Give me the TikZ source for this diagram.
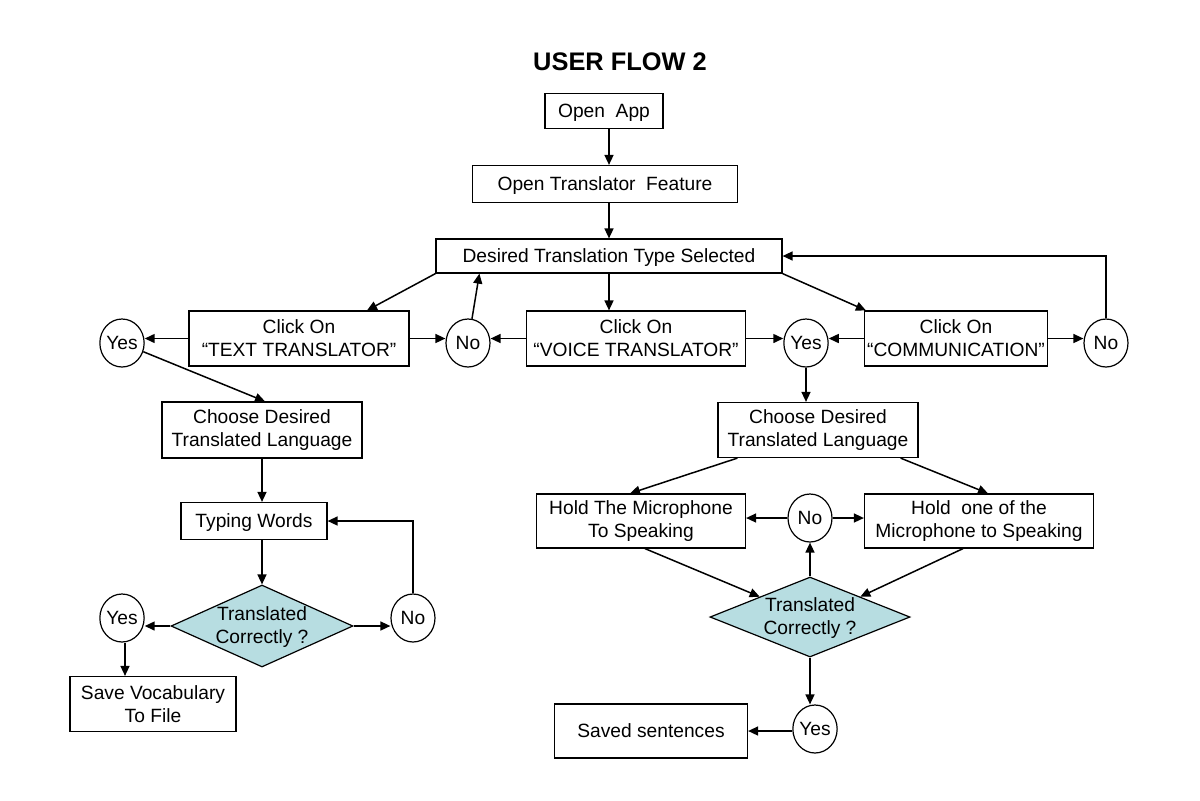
\documentclass[tikz,border=0pt]{standalone}
\usepackage{fontspec}
\setmainfont{Liberation Sans}
\usetikzlibrary{arrows.meta,shapes.geometric,calc}
\definecolor{diafill}{RGB}{183,221,225}
\begin{document}
\begin{tikzpicture}[x=0.5pt,y=-0.5pt,
  every node/.style={font=\fontsize{9.6}{11.4}\selectfont, inner sep=0pt},
  box/.style={draw, line width=0.6pt, align=center},
  one/.style={text depth=0pt},
  circ/.style={draw, ellipse, line width=0.6pt, minimum width=22pt, minimum height=24pt, text depth=0pt},
  dia/.style={draw, diamond, fill=diafill, line width=0.6pt},
  diatext/.style={align=center},
  arr/.style={-{Triangle[length=5pt,width=4.5pt]}, line width=0.75pt}]
\useasboundingbox (0,0) rectangle (1200,800);
\node[font=\fontsize{12.7}{14}\selectfont\bfseries] (title) at (620,62) {USER FLOW 2};
% top column
\node[box, one, minimum width=59pt, minimum height=17.5pt] (open) at (604,111) {Open\ \ App};
\node[box, one, minimum width=132.5pt, minimum height=18.5pt] (feat) at (605,184) {Open Translator\ \ Feature};
\node[box, one, minimum width=173pt, minimum height=17pt] (desired) at (609,256) {Desired Translation Type Selected};
% row of choices
\node[box, minimum width=110pt, minimum height=27.5pt] (text) at (299,338.5) {Click On\\“TEXT TRANSLATOR”};
\node[box, minimum width=109.5pt, minimum height=27.5pt] (voice) at (636,338.5) {Click On\\“VOICE TRANSLATOR”};
\node[box, minimum width=91.5pt, minimum height=27.5pt] (comm) at (956,338.5) {Click On\\“COMMUNICATION”};
\node[circ] (yesA) at (122,343) {Yes};
\node[circ] (noA) at (468,343) {No};
\node[circ] (yesB) at (806,343) {Yes};
\node[circ] (noB) at (1106,343) {No};
% left branch
\node[box, minimum width=100pt, minimum height=28pt] (chooseL) at (262,430) {Choose Desired\\Translated Language};
\node[box, one, minimum width=73pt, minimum height=18.5pt] (typing) at (254,521) {Typing Words};
\node[dia, minimum width=91pt, minimum height=41pt] (diaL) at (262,626) {};
\node[diatext] (diaLt) at (262,627) {Translated\\Correctly ?};
\node[circ] (yesC) at (122,618) {Yes};
\node[circ] (noC) at (413,618) {No};
\node[box, minimum width=83pt, minimum height=27.5pt] (save) at (153,704) {Save Vocabulary\\To File};
% right branch
\node[box, minimum width=100pt, minimum height=27.5pt] (chooseR) at (818,430) {Choose Desired\\Translated Language};
\node[box, minimum width=104.5pt, minimum height=27pt] (holdA) at (641,521) {Hold The Microphone\\To Speaking};
\node[circ] (noD) at (810,518) {No};
\node[box, minimum width=114.5pt, minimum height=27pt] (holdB) at (979,521) {Hold\ \ one of the\\Microphone to Speaking};
\node[dia, minimum width=100pt, minimum height=40pt] (diaR) at (810,617) {};
\node[diatext] (diaRt) at (810,618) {Translated\\Correctly ?};
\node[circ] (yesE) at (815,729) {Yes};
\node[box, one, minimum width=96.5pt, minimum height=27pt] (saved) at (651,731) {Saved sentences};
% connectors top
\draw[arr] (open.south -| 609,0) -- (feat.north -| 609,0);
\draw[arr] (feat.south -| 609,0) -- (desired.north -| 609,0);
\draw[arr] (desired.south -| 609,0) -- (voice.north -| 609,0);
\draw[arr] (desired.south west) -- ($(text.north)+(68,0)$);
\draw[arr] (desired.south east) -- ($(comm.north west)+(2,0)$);
\draw[arr] (noA) -- ($(desired.south west)+(44,0)$);
\draw[arr] (text.west) -- (yesA.east |- text.west);
\draw[arr] (text.east) -- (noA.west |- text.east);
\draw[arr] (voice.west) -- (noA.east |- voice.west);
\draw[arr] (voice.east) -- (yesB.west |- voice.east);
\draw[arr] (comm.west) -- (yesB.east |- comm.west);
\draw[arr] (comm.east) -- (noB.west |- comm.east);
\draw[arr] (noB.north) |- (desired.east);
% left branch connectors
\draw[arr] (yesA) -- ($(chooseL.north)+(3,0)$);
\draw[arr] (chooseL.south) -- (chooseL.south |- typing.north);
\draw[arr] (diaL.north |- typing.south) -- (diaL.north);
\draw[arr] (diaL.west) -- (yesC.east |- diaL.west);
\draw[arr] (diaL.east) -- (noC.west |- diaL.east);
\draw[arr] (noC.north) |- (typing.east);
\draw[arr] ($(yesC.south)+(3,0)$) -- ($(yesC.south |- save.north)+(3,0)$);
% right branch connectors
\draw[arr] (yesB.south) -- (yesB.south |- chooseR.north);
\draw[arr] ($(chooseR.south west)+(20,0)$) -- ($(holdA.north)+(-11,0)$);
\draw[arr] ($(chooseR.south east)+(-18,0)$) -- ($(holdB.north)+(9,0)$);
\draw[arr] ($(holdA.south)+(4,0)$) -- (diaR.north west);
\draw[arr] ($(holdB.south)+(-16,0)$) -- (diaR.north east);
\draw[arr] (diaR.north) -- (noD.south);
\draw[arr] (noD.west) -- (holdA.east |- noD.west);
\draw[arr] (noD.east) -- (holdB.west |- noD.east);
\draw[arr] (diaR.south) -- (diaR.south |- yesE.north);
\draw[arr] (yesE.west |- saved.east) -- (saved.east);
\end{tikzpicture}
\end{document}
